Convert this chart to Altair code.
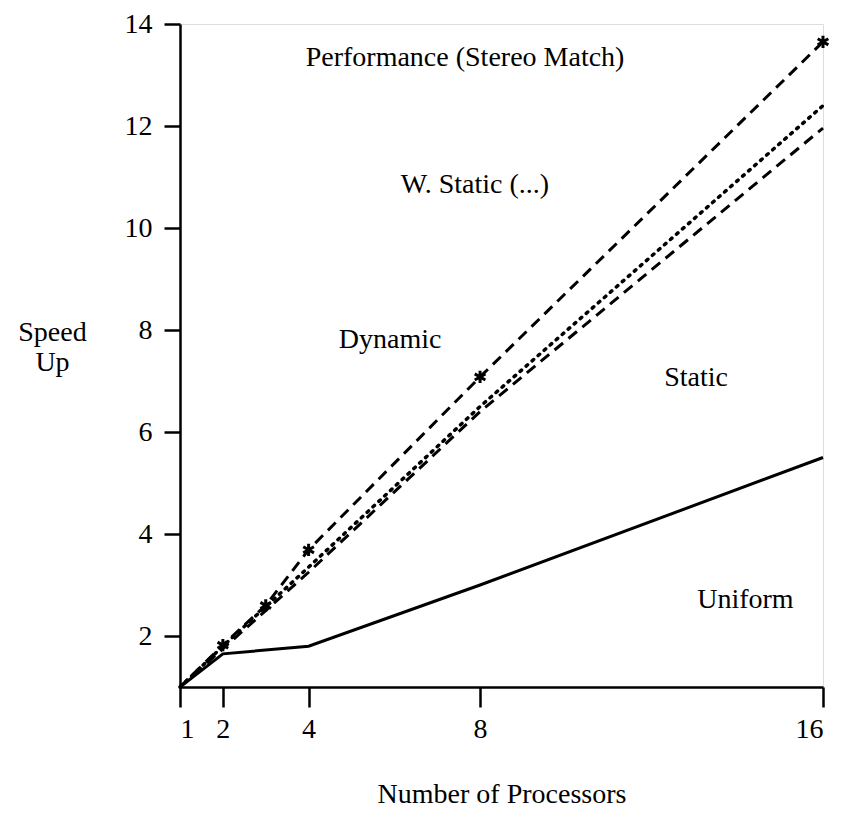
import altair as alt
import pandas as pd

# ---- data ----
procs = [1, 2, 4, 8, 16]
dynamic_procs = [1, 2, 3, 4, 8, 16]
dynamic = [1.0, 1.82, 2.6, 3.69, 7.08, 13.65]
wstatic = [1.0, 1.8, 3.35, 6.5, 12.4]
static = [1.0, 1.75, 3.25, 6.4, 11.96]
uniform = [1.0, 1.65, 1.8, 3.0, 5.5]

x_ticks = [1, 2, 4, 8, 16]
y_ticks = [2, 4, 6, 8, 10, 12, 14]

labels = ["Performance (Stereo Match)", "W. Static (...)", "Dynamic", "Static", "Uniform"]
label_x = [7.65, 7.88, 5.9, 13.04, 14.19]
label_y = [13.33, 10.84, 7.8, 7.06, 2.7]

FONT = "Liberation Serif"

dyn_df = pd.DataFrame({"p": dynamic_procs, "s": dynamic})
ws_df = pd.DataFrame({"p": procs, "s": wstatic})
st_df = pd.DataFrame({"p": procs, "s": static})
un_df = pd.DataFrame({"p": procs, "s": uniform})
lab_df = pd.DataFrame({"t": labels, "p": label_x, "s": label_y})

xenc = alt.X(
    "p:Q",
    scale=alt.Scale(domain=[1, 16], nice=False, zero=False),
    axis=alt.Axis(
        values=x_ticks, grid=False, tickSize=20, tickWidth=2.5, domainWidth=2.5,
        domainColor="black", tickColor="black",
        labelFont=FONT, labelFontSize=28, labelColor="black", labelPadding=8,
        title="Number of Processors", titleFont=FONT, titleFontSize=28,
        titleFontWeight="normal", titleColor="black", titlePadding=37,
    ),
)
yenc = alt.Y(
    "s:Q",
    scale=alt.Scale(domain=[1, 14], nice=False, zero=False),
    axis=alt.Axis(
        values=y_ticks, grid=False, tickSize=16, tickWidth=2.5, domainWidth=2.5,
        domainColor="black", tickColor="black",
        labelFont=FONT, labelFontSize=28, labelColor="black", labelPadding=12,
        title=["Speed", "Up"], titleFont=FONT, titleFontSize=28,
        titleFontWeight="normal", titleColor="black", titleAngle=0,
        titleAlign="center", titleBaseline="top", titleX=-128, titleY=294,
        titleLineHeight=30,
    ),
)

base_x = alt.X("p:Q")
base_y = alt.Y("s:Q")

dyn_line = alt.Chart(dyn_df).mark_line(color="black", strokeWidth=3, strokeDash=[11, 7]).encode(x=xenc, y=yenc)
star_path = "M0,-1L0,1M-0.87,-0.5L0.87,0.5M-0.87,0.5L0.87,-0.5"
dyn_pts = alt.Chart(dyn_df[dyn_df.p > 1]).mark_point(
    shape=star_path, filled=False, color="black", strokeWidth=3, size=150, opacity=1
).encode(x=base_x, y=base_y)
ws_line = alt.Chart(ws_df).mark_line(color="black", strokeWidth=3.5, strokeDash=[2, 6], strokeCap="round").encode(x=base_x, y=base_y)
st_line = alt.Chart(st_df).mark_line(color="black", strokeWidth=3, strokeDash=[11, 7]).encode(x=base_x, y=base_y)
un_line = alt.Chart(un_df).mark_line(color="black", strokeWidth=3).encode(x=base_x, y=base_y)
txt = alt.Chart(lab_df).mark_text(font=FONT, fontSize=28, color="black", align="center", baseline="middle").encode(
    x=base_x, y=base_y, text="t:N"
)

chart = alt.layer(dyn_line, ws_line, st_line, un_line, dyn_pts, txt).properties(
    width=643, height=663,
    autosize=alt.AutoSizeParams(type="none"),
    padding={"left": 172, "top": 16, "right": 12, "bottom": 121},
).configure_view(stroke="black", strokeWidth=2.5).configure(background="white")

chart.save("out.html", embed_options={"renderer": "svg", "actions": False})
